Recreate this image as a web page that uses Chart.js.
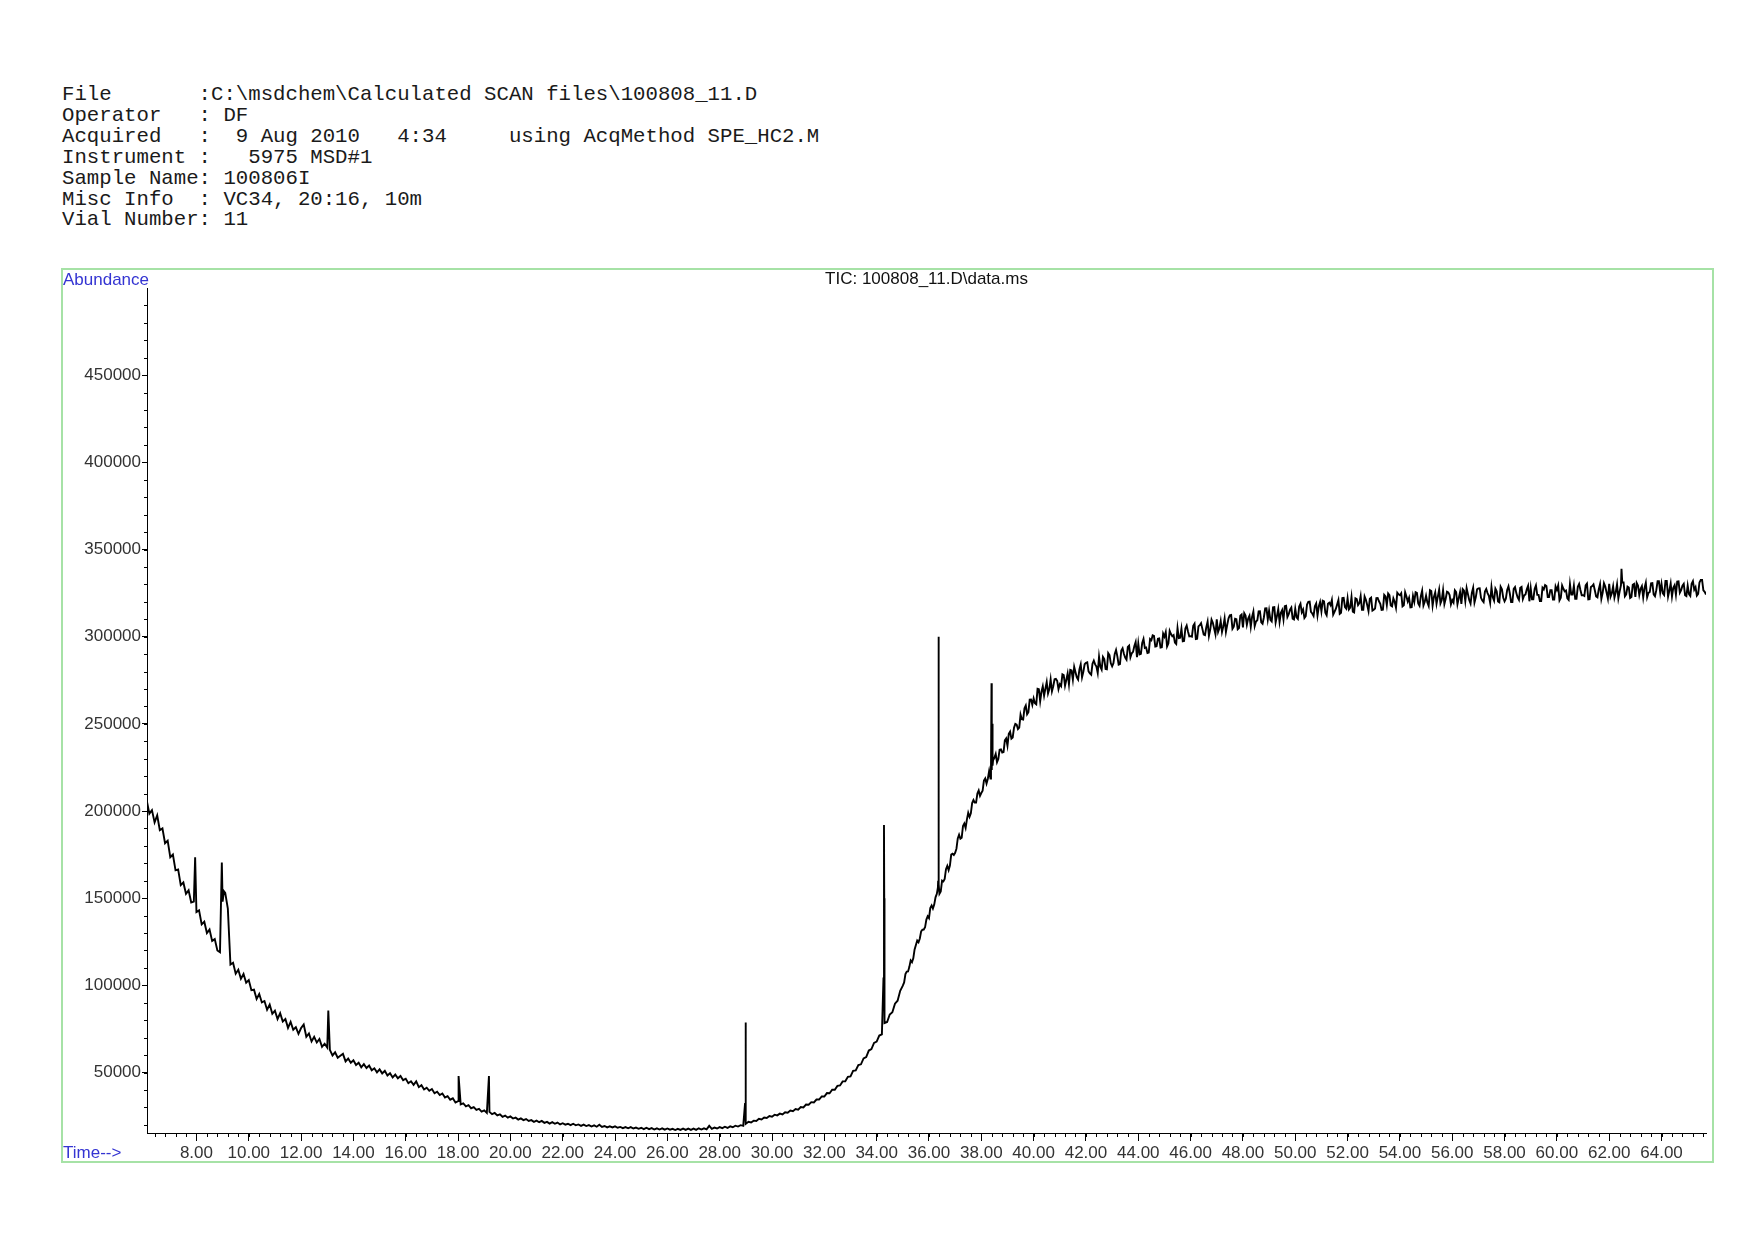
<!DOCTYPE html>
<html>
<head>
<meta charset="utf-8">
<script src="https://cdn.jsdelivr.net/npm/chart.js@4.4.1/dist/chart.umd.min.js"></script>
<style>
  body { margin: 0; background: #fff; width: 1754px; height: 1240px; position: relative; overflow: hidden; }
  #header { position: absolute; left: 62px; top: 85px; margin: 0; font-family: "Liberation Mono", monospace; font-size: 20.7px; line-height: 20.9px; color: #1a1a1a; white-space: pre; }
  #frame { position: absolute; left: 61px; top: 268px; width: 1649px; height: 891px; border: 2px solid #a6e2a6; }
  #tic { position: absolute; left: 63px; top: 270px; }
  .lbl { position: absolute; font-family: "Liberation Sans", Arial, sans-serif; font-size: 17px; color: #3434d2; line-height: 17px; }
</style>
</head>
<body>
<pre id="header">File       :C:\msdchem\Calculated SCAN files\100808_11.D
Operator   : DF
Acquired   :  9 Aug 2010   4:34     using AcqMethod SPE_HC2.M
Instrument :   5975 MSD#1
Sample Name: 100806I
Misc Info  : VC34, 20:16, 10m
Vial Number: 11</pre>
<div id="frame"></div>
<canvas id="tic" width="1648" height="890"></canvas>
<div class="lbl" style="left:63px; top:271px;">Abundance</div>
<div class="lbl" style="left:63px; top:1144px;">Time--&gt;</div>
<script>
// TIC, one value every 0.1 min starting at 6.1 min
var scanStart = 6.1
var scanStep = 0.1
var tic = [
  206000, 198500, 200500, 193500, 197500, 189000, 190000, 181500, 183000,
  173500, 175000, 166000, 166500, 157500, 159000, 152500, 154500, 147500, 148000,
  142000, 143000, 135000, 136500, 130000, 132000, 125500, 126500, 120000, 119000,
  148000, 153000, 144000, 112000, 113000, 106700, 109000, 103800, 106500, 101500,
  103000, 97200, 97500, 92200, 95000, 90200, 91000, 86000, 89000, 83700,
  85500, 80700, 84000, 79300, 80700, 75600, 79000, 74500, 76000, 72200,
  75500, 77500, 70500, 72400, 67800, 70500, 67200, 69200, 64700, 66500,
  64300, 63000, 59800, 61600, 58500, 59600, 60700, 56400, 58000, 55600,
  57000, 54300, 55600, 53000, 54800, 52600, 54000, 51300, 52400, 50100,
  51800, 49500, 51000, 48300, 49600, 47200, 48800, 46700, 48000, 45600,
  46400, 43900, 45000, 42900, 44900, 41600, 42700, 40300, 41300, 39500,
  40500, 38100, 39000, 37100, 38000, 35700, 36400, 34400, 35200, 32800,
  33600, 31700, 32300, 30600, 31300, 29500, 30100, 28600, 29100, 27600,
  28300, 26800, 27400, 26100, 26800, 25400, 26000, 24600, 25300, 24100,
  24800, 23600, 24100, 23000, 23700, 22700, 23300, 22200, 22700, 21700,
  22400, 21500, 22200, 21100, 21700, 20700, 21500, 20600, 21300, 20200,
  20900, 20100, 20600, 19800, 20600, 19700, 20200, 19400, 20100, 19300,
  19800, 19000, 19700, 18900, 20000, 18800, 19300, 18500, 19100, 18500,
  19100, 18300, 18800, 18100, 18700, 18000, 18700, 17900, 18400, 17700,
  18300, 17500, 18300, 17500, 18100, 17300, 18000, 17300, 18000, 17200,
  17900, 17200, 17700, 17000, 17700, 17100, 17800, 17100, 17800, 17100,
  17800, 17100, 18000, 17300, 18000, 17400, 19400, 17700, 18400, 17900,
  18700, 18100, 18900, 18200, 19100, 18600, 19500, 19000, 19800, 19400,
  20500, 21700, 21300, 22400, 22200, 23400, 23100, 24200, 23900, 25000,
  24600, 25800, 25400, 26400, 25900, 27200, 26900, 28200, 27800, 29000,
  28700, 30200, 30000, 31600, 31500, 33000, 32800, 34500, 34500, 36300,
  36200, 38200, 38100, 40100, 40100, 42300, 42600, 44900, 45000, 47500,
  47800, 50900, 51200, 54300, 54700, 58100, 58900, 62600, 63400, 67000,
  67700, 71200, 71900, 78400, 79000, 83300, 84600, 89500, 91200, 96900,
  99800, 106500, 108000, 114300, 115500, 123200, 124700, 131000, 132000, 137700,
  138500, 145800, 146300, 152500, 152500, 160100, 161000, 168500, 168700, 175500,
  176000, 184300, 184100, 191400, 190300, 199000, 198700, 206300, 204800, 211800,
  210300, 217500, 215800, 223000, 223500, 230500, 228000, 235200, 233500, 240500,
  237500, 245500, 242200, 250000, 247000, 255300, 252500, 260500, 256700, 264000,
  264600, 261200, 269900, 268400, 266200, 274000, 269900, 268700, 275600, 274700,
  272700, 278400, 271900, 278900, 280900, 275300, 279600, 275400, 284100, 279900,
  285000, 280100, 278200, 286300, 282900, 288500, 281100, 287200, 281300, 289400,
  283000, 290100, 288700, 284300, 293400, 288000, 294100, 288200, 291300, 296900,
  296000, 290100, 298700, 293800, 290900, 298000, 300500, 294500, 299000, 294000,
  300000, 294400, 303300, 300200, 296600, 305000, 299400, 297300, 304700, 303000,
  300300, 306200, 298600, 305900, 307800, 301200, 305500, 300400, 309800, 304600,
  310000, 304800, 302700, 310500, 306800, 312200, 304500, 310300, 304200, 312000,
  305300, 312100, 310400, 305600, 314400, 308700, 314500, 308200, 311000, 316300,
  315000, 308800, 317000, 311800, 308500, 315300, 317500, 311300, 315500, 310300,
  316000, 310200, 318900, 315600, 311800, 320000, 314200, 311900, 319100, 317300,
  314500, 320200, 312300, 319500, 321100, 314300, 318400, 313100, 322200, 316900,
  322000, 316700, 314300, 322000, 318100, 323300, 315400, 321100, 314700, 322400,
  315500, 322100, 320300, 315400, 324000, 318200, 323800, 317400, 320000, 325200,
  323800, 317400, 325500, 320200, 316800, 323400, 325500, 319100, 323300, 317900,
  323500, 317600, 326200, 322800, 318900, 327000, 321100, 318700, 325800, 323900,
  321000, 326600, 318600, 325700, 327300, 320400, 324400, 319000, 328100, 322600,
  327700, 322300, 319800, 327400, 323500, 328500, 320600, 326100, 319700, 327200,
  320300, 326800, 324900, 319900, 328500, 322500, 328100, 321600, 324200, 329200,
  327800, 321400, 329400, 324000, 320500, 327100, 329100, 322700, 326700, 321300,
  326800, 320900, 329400, 326000, 322000, 330100, 324100, 321700, 328700, 326800,
  323800, 329400, 321400, 328500, 330000, 323100, 327100, 321700, 330700, 325300,
  330300, 324900, 322400, 330000, 326000, 331100, 323100, 328700, 322200, 329800,
  322800, 329400, 327400, 322500, 331000, 325100, 330600, 324200, 326700, 331800,
  330300, 323900, 331900, 326500, 323000, 329600, 331600, 325200, 329200, 323800,
  329300, 323400, 331900, 328500, 324500, 332600, 326600, 324200
]

// in-between scans on the noisy upper part, from 35.05 min, 0.1 min apart
var midStart = 35.05
var ticMid = [
  101700, 107900, 110600, 113300, 120600, 125700, 126900, 131900, 133300, 139600,
  144400, 144000, 150500, 160000, 153800, 159600, 166600, 166100, 175000, 174800,
  178400, 186400, 184700, 192800, 195200, 196700, 204600, 204800, 210000, 208700,
  211600, 218700, 218500, 218600, 229100, 232700, 229900, 235400, 233800, 241600,
  244300, 241500, 247800, 249600, 247900, 252700, 258900, 255500, 263900, 260900,
  261800, 270100, 263000, 271500, 270200, 267400, 275500, 271600, 275800, 269900,
  271600, 278000, 275300, 272700, 280600, 282700, 276700, 281200, 276700, 284200,
  285300, 278900, 284500, 284100, 279200, 282800, 288400, 281500, 290600, 284700,
  284800, 292400, 284000, 292100, 290200, 286800, 294900, 290500, 294600, 288200,
  289800, 296400, 293500, 290600, 298700, 300800, 294300, 298800, 293800, 301800,
  302700, 296100, 301500, 300900, 295800, 299200, 304600, 297500, 306400, 300200,
  300000, 307400, 298800, 306600, 304500, 300900, 308700, 304100, 308000, 301300,
  302700, 309000, 305900, 302700, 310500, 312400, 305700, 310000, 304900, 312700,
  313500, 306800, 312000, 311300, 306100, 309400, 314600, 307400, 316200, 309900,
  309700, 316900, 308200, 315900, 313700, 309900, 317700, 312900, 316700, 309900,
  311100, 317300, 314000, 310700, 318400, 320100, 313300, 317500, 312200, 319900,
  320600, 313800, 318900, 318100, 312700, 315900, 321000, 313700, 322300, 316000,
  315600, 322800, 313900, 321600, 319200, 315400, 323000, 318200, 321800, 315000,
  316100, 322200, 318900, 315500, 323100, 324800, 317900, 322000, 316600, 324300,
  324900, 318000, 323100, 322300, 316900, 320000, 325100, 317700, 326400, 320000,
  319600, 326700, 317800, 325400, 323000, 319100, 326700, 321800, 325400, 318500,
  319600, 325600, 322200, 318800, 326400, 327900, 321000, 325100, 319600, 327200,
  327800, 320800, 325900, 325000, 319500, 322600, 327600, 320200, 328700, 322300,
  321800, 328900, 319900, 327500, 325000, 321100, 328600, 323700, 327200, 320300,
  321400, 327400, 324000, 320500, 328100, 329600, 322700, 326700, 321300, 328800,
  329400, 322400, 327500, 326500, 321100, 324100, 329200, 321700, 330300, 323800,
  323400, 330400, 321500, 329000, 326600, 322600, 330200, 325200, 328800, 321800,
  322900, 328900, 325500, 322000, 329600, 331100, 324200, 328200, 322800, 330300,
  330900, 323900, 329000, 328000, 322600, 325600, 330700, 323200, 331800, 325300,
  324900, 331900, 323000, 330500, 328100, 324100, 331700, 326700, 330300, 323300,
  324400, 330400, 327000, 323500, 331100, 332600, 325700
]

// sharp peaks (apex and shoulder readings) between the regular scans
var peakTime  = [7.95, 8.97, 9.05, 13.04, 18.02, 19.18, 28.97, 28.99, 34.26, 34.28, 34.29, 36.34, 36.36, 36.38, 38.37, 38.39, 38.41, 38.43, 62.47]
var peakAbund = [173500, 170400, 154000, 85500, 48000, 48000, 32500, 78700, 104000, 192000, 150000, 156000, 300000, 158000, 224000, 273300, 250000, 226000, 339000]

var timeTicks = [8, 10, 12, 14, 16, 18, 20, 22, 24, 26, 28, 30, 32, 34, 36, 38, 40, 42, 44, 46, 48, 50, 52, 54, 56, 58, 60, 62, 64]
var abundTicks = [50000, 100000, 150000, 200000, 250000, 300000, 350000, 400000, 450000]
var minorTimeStep = 0.4
var minorAbundStep = 10000

var points = tic.map(function (v, i) {
  return { x: +(scanStart + i * scanStep).toFixed(2), y: v }
})
ticMid.forEach(function (v, i) {
  points.push({ x: +(midStart + i * scanStep).toFixed(2), y: v })
})
peakTime.forEach(function (t, i) {
  points.push({ x: t, y: peakAbund[i] })
})
points.sort(function (a, b) { return a.x - b.x })

// short minor tick marks on both axes
const minorTicks = {
  id: 'minorTicks',
  afterDraw(chart) {
    const ctx = chart.ctx
    const xs = chart.scales.x
    const ys = chart.scales.y
    ctx.save()
    ctx.strokeStyle = '#000'
    ctx.lineWidth = 1
    ctx.beginPath()
    for (let k = 16; k * minorTimeStep <= xs.max; k++) {
      const px = Math.round(xs.getPixelForValue(k * minorTimeStep)) + 0.5
      ctx.moveTo(px, ys.bottom)
      ctx.lineTo(px, ys.bottom + 4)
    }
    for (let k = 2; k * minorAbundStep < ys.max; k++) {
      const py = Math.round(ys.getPixelForValue(k * minorAbundStep)) + 0.5
      ctx.moveTo(xs.left - 3, py)
      ctx.lineTo(xs.left, py)
    }
    ctx.stroke()
    ctx.restore()
  }
}

const tickFont = { family: 'Liberation Sans', size: 17 }

const ctx = document.getElementById('tic').getContext('2d')
const ticChart = new Chart(ctx, {
  type: 'line',
  data: {
    datasets: [{
      data: points,
      borderColor: '#000',
      borderWidth: 1.9,
      pointRadius: 0,
      tension: 0,
      fill: false
    }]
  },
  options: {
    responsive: false,
    animation: false,
    events: [],
    layout: { padding: { left: 0, right: 5, top: 0, bottom: 0 } },
    plugins: {
      legend: { display: false },
      tooltip: { enabled: false },
      title: {
        display: true,
        text: 'TIC: 100808_11.D\\data.ms',
        fullSize: false,
        color: '#111',
        padding: 0,
        font: { family: 'Liberation Sans', size: 17, weight: 'normal', lineHeight: 1.06 }
      }
    },
    scales: {
      x: {
        type: 'linear',
        min: 6.11,
        max: 65.7,
        afterBuildTicks: s => { s.ticks = timeTicks.map(v => ({ value: v })) },
        afterFit: s => { s.height = 27 },
        border: { color: '#000', width: 1 },
        grid: { drawOnChartArea: false, tickLength: 8, tickColor: '#000' },
        ticks: { callback: v => v.toFixed(2), color: '#333', font: tickFont, padding: 2, maxRotation: 0, autoSkip: false }
      },
      y: {
        min: 15300,
        max: 500000,
        afterBuildTicks: s => { s.ticks = abundTicks.map(v => ({ value: v })) },
        afterFit: s => { s.width = 84 },
        border: { color: '#000', width: 1 },
        grid: { drawOnChartArea: false, tickLength: 5, tickColor: '#000' },
        ticks: { callback: v => String(v), color: '#333', font: tickFont, padding: 1, autoSkip: false }
      }
    }
  },
  plugins: [minorTicks]
})
</script>
</body>
</html>
